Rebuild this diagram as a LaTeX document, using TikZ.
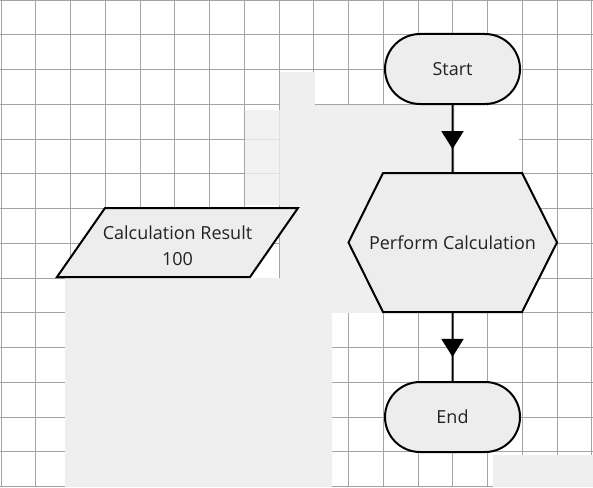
\documentclass[tikz,border=0pt]{standalone}
\usepackage{fontspec}
\setmainfont{Open Sans}
\usetikzlibrary{shapes.misc,arrows.meta,decorations.markings}

\definecolor{gridgrey}{HTML}{A4A4A4}
\definecolor{maskgrey}{HTML}{EFEFEF}
\definecolor{boxgrey}{HTML}{EDEDED}
\definecolor{textgrey}{HTML}{222222}

\begin{document}
\begin{tikzpicture}[x=1pt,y=-1pt,
	terminal/.style={rounded rectangle, draw=black, fill=boxgrey, line width=2pt,
		minimum width=139pt, minimum height=70pt, inner sep=2pt, text=textgrey},
	hexbody/.style={rectangle, minimum height=139pt, inner sep=0pt, text=textgrey},
	iobody/.style={rectangle, align=center, inner sep=0pt, text=textgrey},
	outline/.style={draw=black, fill=boxgrey, line width=2pt, line join=miter},
	flow/.style={line width=2pt, postaction={decorate},
		decoration={markings, mark=at position 0.65 with {\arrow{Triangle[width=22pt,length=18pt]}}}}]
	\useasboundingbox (0,0) rectangle (593,487);
	\fontsize{18}{26}\selectfont

	% Draw the grid
	\fill[white] (0,0) rectangle (593,487);
	\draw[gridgrey, line width=0.9pt, step=34.75pt, xshift=1pt] (-1,0) grid (593,487);

	% light patches over the grid
	\fill[maskgrey] (280,72) rectangle (315,105);
	\fill[maskgrey] (300,105) rectangle (455,173);
	\fill[white] (455,106) rectangle (519,172);
	\fill[maskgrey, opacity=0.8] (245,110) rectangle (280,205);
	\fill[maskgrey] (280,105) rectangle (383,313);
	\fill[maskgrey] (65,278) rectangle (332,487);
	\fill[maskgrey] (493,455) rectangle (593,487);

	% shape outlines
	\coordinate (rescentre) at (177.5,242.5);
	\coordinate (calccentre) at (452.5,242.5);
	\draw[outline] ([shift={(-72.5,-34.5)}]rescentre) -- ([shift={(120.5,-34.5)}]rescentre)
		-- ([shift={(72.5,34.5)}]rescentre) -- ([shift={(-120.5,34.5)}]rescentre) -- cycle;
	\draw[outline] ([shift={(-69.5,-69.5)}]calccentre) -- ([shift={(69.5,-69.5)}]calccentre)
		-- ([shift={(104.5,0)}]calccentre) -- ([shift={(69.5,69.5)}]calccentre)
		-- ([shift={(-69.5,69.5)}]calccentre) -- ([shift={(-104,0)}]calccentre) -- cycle;

	% nodes
	\node[terminal] (start) at (452.5,69) {Start};
	\node[hexbody] (calc) at (calccentre) {Perform Calculation};
	\node[terminal] (end) at (452.5,417) {End};
	\node[iobody] (result) at ([yshift=-3pt]rescentre) {Calculation Result\\100};

	% connectors
	\draw[flow] (start) -- (calc);
	\draw[flow] (calc) -- (end);
\end{tikzpicture}
\end{document}
